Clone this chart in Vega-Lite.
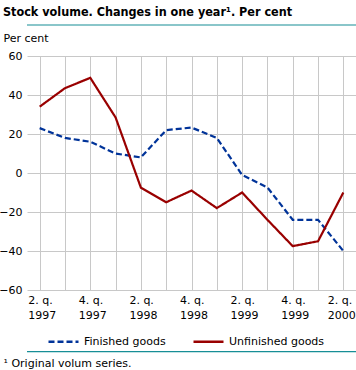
{
  "$schema": "https://vega.github.io/schema/vega-lite/v6.json",
  "width": 329,
  "height": 234,
  "autosize": {"type": "none"},
  "padding": {"left": 27, "top": 56, "right": 0, "bottom": 80},
  "background": "white",
  "title": {
    "text": "Stock volume. Changes in one year¹. Per cent",
    "anchor": "start",
    "frame": "group",
    "dx": -24,
    "offset": 6,
    "font": "DejaVu Sans Condensed",
    "fontSize": 12.5,
    "fontWeight": "bold",
    "color": "#000000"
  },
  "config": {
    "view": {"stroke": null},
    "font": "DejaVu Sans",
    "axis": {
      "labelFont": "DejaVu Sans",
      "labelFontSize": 11,
      "labelColor": "#000000",
      "titleFont": "DejaVu Sans",
      "titleFontSize": 11,
      "titleFontWeight": "normal",
      "titleColor": "#000000",
      "gridColor": "#c8c8c8",
      "gridOpacity": 1,
      "gridWidth": 1,
      "domain": false,
      "ticks": false
    },
    "legend": {
      "labelFont": "DejaVu Sans",
      "labelFontSize": 11,
      "labelColor": "#000000"
    }
  },
  "datasets": {
    "stock": [
      {"quarter": "2. q. 1997", "series": "Finished goods", "value": 23},
      {"quarter": "3. q. 1997", "series": "Finished goods", "value": 18},
      {"quarter": "4. q. 1997", "series": "Finished goods", "value": 16},
      {"quarter": "1. q. 1998", "series": "Finished goods", "value": 10},
      {"quarter": "2. q. 1998", "series": "Finished goods", "value": 8},
      {"quarter": "3. q. 1998", "series": "Finished goods", "value": 22},
      {"quarter": "4. q. 1998", "series": "Finished goods", "value": 23.3},
      {"quarter": "1. q. 1999", "series": "Finished goods", "value": 18},
      {"quarter": "2. q. 1999", "series": "Finished goods", "value": -1},
      {"quarter": "3. q. 1999", "series": "Finished goods", "value": -7.4},
      {"quarter": "4. q. 1999", "series": "Finished goods", "value": -24},
      {"quarter": "1. q. 2000", "series": "Finished goods", "value": -24},
      {"quarter": "2. q. 2000", "series": "Finished goods", "value": -40},
      {"quarter": "2. q. 1997", "series": "Unfinished goods", "value": 34},
      {"quarter": "3. q. 1997", "series": "Unfinished goods", "value": 43.5},
      {"quarter": "4. q. 1997", "series": "Unfinished goods", "value": 48.8},
      {"quarter": "1. q. 1998", "series": "Unfinished goods", "value": 28.5},
      {"quarter": "2. q. 1998", "series": "Unfinished goods", "value": -7.5},
      {"quarter": "3. q. 1998", "series": "Unfinished goods", "value": -15},
      {"quarter": "4. q. 1998", "series": "Unfinished goods", "value": -9},
      {"quarter": "1. q. 1999", "series": "Unfinished goods", "value": -18},
      {"quarter": "2. q. 1999", "series": "Unfinished goods", "value": -10},
      {"quarter": "3. q. 1999", "series": "Unfinished goods", "value": -24},
      {"quarter": "4. q. 1999", "series": "Unfinished goods", "value": -37.5},
      {"quarter": "1. q. 2000", "series": "Unfinished goods", "value": -35},
      {"quarter": "2. q. 2000", "series": "Unfinished goods", "value": -10}
    ]
  },
  "data": {"name": "stock"},
  "resolve": {"axis": {"y": "independent"}},
  "layer": [
    {
      "mark": {"type": "line", "strokeWidth": 2.2},
      "encoding": {
        "x": {
          "field": "quarter",
          "type": "ordinal",
          "sort": null,
          "scale": {"type": "point", "padding": 0.5},
          "axis": {
            "title": "¹ Original volum series.",
            "titleAnchor": "start",
            "titleAlign": "left",
            "titleBaseline": "middle",
            "titleX": -24,
            "titleY": 73,
            "labelAngle": 0,
            "labelPadding": 4,
            "labelAlign": "left",
            "labelOffset": {"expr": "datum.value == '2. q. 2000' ? -16 : -12"},
            "labelBaseline": "top",
            "labelLineHeight": 15,
            "labelBound": false,
            "labelOverlap": false,
            "labelExpr": "test(/^[24]\\. q/, datum.value) ? [slice(datum.value, 0, 5), slice(datum.value, 6)] : ''",
            "grid": true
          }
        },
        "y": {
          "field": "value",
          "type": "quantitative",
          "scale": {"domain": [-60, 60], "nice": false, "zero": false},
          "axis": {
            "values": [-60, -40, -20, 0, 20, 40, 60],
            "title": "Per cent",
            "titleAngle": 0,
            "titleAlign": "left",
            "titleBaseline": "middle",
            "titleX": -24,
            "titleY": -18,
            "labelPadding": 5,
            "labelOverlap": false,
            "grid": true
          }
        },
        "color": {
          "field": "series",
          "type": "nominal",
          "scale": {"domain": ["Finished goods", "Unfinished goods"], "range": ["#003399", "#990000"]},
          "legend": {
            "title": null,
            "orient": "none",
            "legendX": 20,
            "legendY": 269,
            "direction": "horizontal",
            "symbolType": "stroke",
            "symbolSize": 900,
            "symbolStrokeWidth": 2.5,
            "labelOffset": 4,
            "columnPadding": 22
          }
        },
        "strokeDash": {
          "field": "series",
          "type": "nominal",
          "scale": {"domain": ["Finished goods", "Unfinished goods"], "range": [[6, 3], [1, 0]]},
          "legend": null
        }
      }
    },
    {
      "data": {"values": [{"line": "top", "value": 75.9}, {"line": "bottom", "value": -91.6}]},
      "mark": {"type": "rule", "color": "#178e96", "strokeWidth": 1.2, "clip": false},
      "encoding": {
        "y": {"field": "value", "type": "quantitative", "axis": null}
      }
    }
  ]
}
